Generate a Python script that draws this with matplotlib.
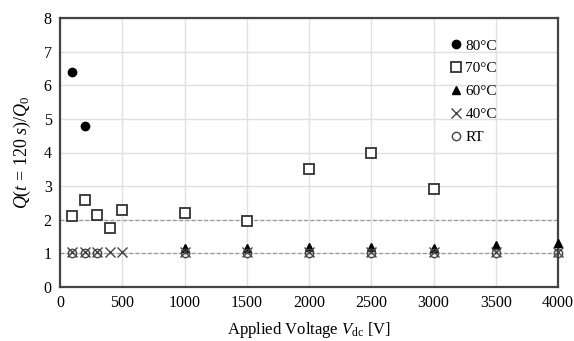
import matplotlib
matplotlib.use("Agg")
import matplotlib.pyplot as plt

plt.rcParams['font.family'] = ['Liberation Serif', 'DejaVu Serif']
plt.rcParams['mathtext.fontset'] = 'custom'
plt.rcParams['mathtext.rm'] = 'Liberation Serif'
plt.rcParams['mathtext.it'] = 'Liberation Serif:italic'

x80 = [100, 200]
y80 = [6.4, 4.8]
x70 = [100, 200, 300, 400, 500, 1000, 1500, 2000, 2500, 3000]
y70 = [2.1, 2.6, 2.15, 1.75, 2.3, 2.2, 1.95, 3.5, 4.0, 2.9]
x60 = [1000, 1500, 2000, 2500, 3000, 3500, 4000]
y60 = [1.15, 1.15, 1.2, 1.2, 1.15, 1.25, 1.3]
x40 = [100, 200, 300, 400, 500, 1000, 1500, 2000, 2500, 3000, 3500, 4000]
y40 = [1.05, 1.05, 1.05, 1.05, 1.05, 1.05, 1.05, 1.05, 1.05, 1.05, 1.05, 1.05]
xRT = [100, 200, 300, 1000, 1500, 2000, 2500, 3000, 3500, 4000]
yRT = [1.0, 1.0, 1.0, 1.0, 1.0, 1.0, 1.0, 1.0, 1.0, 1.0]
ref_lines = [1, 2]

fig = plt.figure(figsize=(5.74, 3.41), dpi=100)
ax = fig.add_axes([60/574, 1 - 287/341, (558-60)/574, (287-18)/341])

ax.set_xlim(0, 4000)
ax.set_ylim(0, 8)
ax.set_xticks(range(0, 4001, 500))
ax.set_yticks(range(0, 9))
ax.grid(True, color='#e0e0e0', linewidth=1.0)
ax.set_axisbelow(True)
for r in ref_lines:
    ax.axhline(r, color='#999999', linestyle=(0, (3, 2)), linewidth=0.9, zorder=1)

ms = 6
ax.plot(x80, y80, 'o', color='black', ms=ms, linestyle='none', label='80°C', clip_on=False, zorder=3)
ax.plot(x70, y70, 's', mfc='white', mec='#333333', mew=1.3, ms=ms+1, linestyle='none', label='70°C', clip_on=False, zorder=3)
ax.plot(x60, y60, '^', color='black', ms=ms, linestyle='none', label='60°C', clip_on=False, zorder=3)
ax.plot(x40, y40, 'x', color='#444444', mew=1.0, ms=ms+1, linestyle='none', label='40°C', clip_on=False, zorder=3)
ax.plot(xRT, yRT, 'o', mfc='none', mec='#444444', mew=1.0, ms=ms, linestyle='none', label='RT', clip_on=False, zorder=3)

for s in ax.spines.values():
    s.set_color('#444444')
    s.set_linewidth(1.6)
ax.tick_params(length=0, labelsize=11.5, pad=6)

leg = ax.legend(loc='upper left', bbox_to_anchor=(0.765, 0.945), frameon=False,
                handletextpad=0.0, labelspacing=0.6, fontsize=11, handlelength=1.2,
                borderaxespad=0)

ax.set_xlabel('Applied Voltage $V_{\\mathrm{dc}}$ [V]', fontsize=12, labelpad=6)
ax.set_ylabel('$Q$($t$ = 120 $s$)/$Q_0$', fontsize=13, labelpad=8)

fig.savefig('out.png', dpi=100)
